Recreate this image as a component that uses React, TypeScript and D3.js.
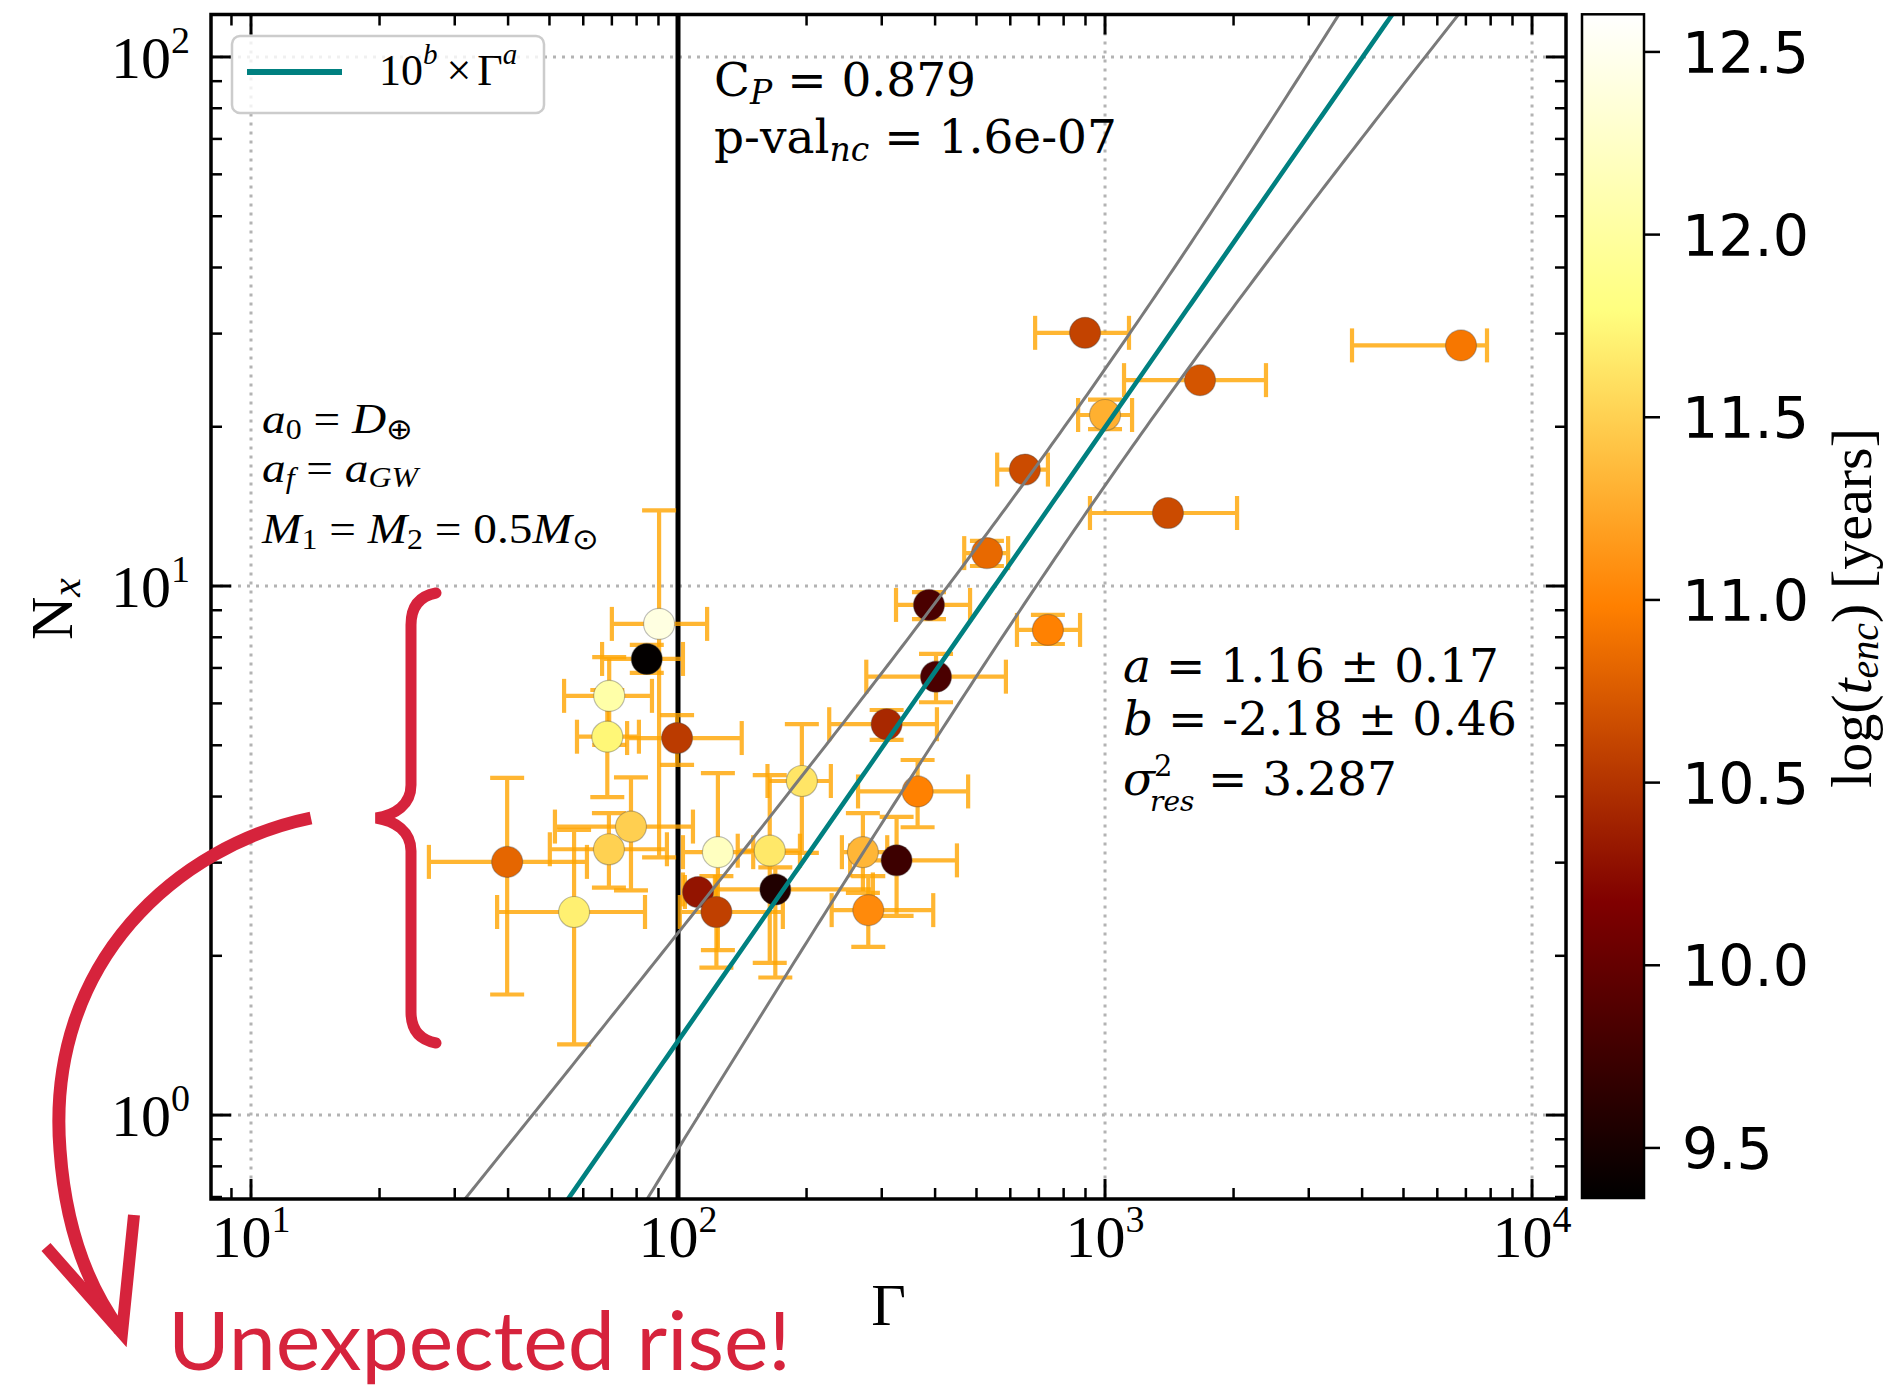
import React from 'react';
import * as d3 from 'd3';

const width = 1890;
const height = 1389;

const plot = { left: 211, right: 1566, top: 14.5, bottom: 1199 };
const cbBox = { left: 1582, right: 1644, top: 14.3, bottom: 1198 };

// Gamma values with horizontal error bounds
const gammaVals = [898, 6818, 1669, 1000, 649, 1404, 529, 387, 735, 402, 308, 195, 364, 325, 271, 279, 169, 164, 124, 111.4, 123, 99.5, 90.3, 84.5, 69.0, 68.3, 77.6, 68.9, 39.8, 57.1];
const gammaLow = [686, 3788, 1108, 865, 559, 922, 468, 324, 622, 276, 226, 162, 264, 253, 242, 229, 102.7, 138, 102.7, 103.8, 101, 76, 70.0, 66.4, 54.1, 58.0, 51.5, 50.1, 26.1, 37.7];
const gammaHigh = [1138, 7844, 2382, 1157, 735, 2038, 593, 483, 874, 586, 404, 228, 478, 450, 309, 396, 286, 193, 150, 122, 176, 141, 117, 102.7, 86.9, 81.0, 108.4, 94.2, 61.2, 83.7];

// N_x values with vertical error bounds (null = no visible bar)
const nxVals = [30.1, 28.5, 24.5, 21.05, 16.6, 13.74, 11.54, 9.21, 8.26, 6.74, 5.48, 4.28, 4.09, 3.03, 3.14, 2.44, 2.67, 3.16, 3.14, 2.64, 2.42, 5.16, 8.48, 7.28, 6.20, 5.19, 3.51, 3.18, 3.01, 2.42];
const nxLow = [null, null, null, 19.8, null, null, 10.91, 8.66, 7.77, 6.03, 5.12, 3.13, 3.50, 2.38, 2.63, 2.08, 1.82, 1.94, 2.05, null, 1.90, 4.59, 3.07, 6.85, 5.01, 3.99, 2.66, 2.69, 1.69, 1.36];
const nxHigh = [null, null, null, 22.5, null, null, 12.17, 9.74, 8.82, 7.44, 5.83, 5.48, 4.69, 3.66, 3.72, 2.83, 2.94, 4.39, 4.43, null, 2.83, 5.70, 13.9, 7.74, 7.34, 6.36, 4.35, 3.72, 4.34, 3.46];

// log(t_enc) colour values
const logTenc = [10.6, 10.93, 10.71, 11.29, 10.65, 10.65, 10.84, 9.83, 10.99, 9.83, 10.43, 11.63, 10.99, 9.75, 11.33, 11.05, 9.565, 11.65, 12.2, 10.3, 10.58, 10.55, 12.41, 9.38, 12.05, 11.74, 11.49, 11.5, 10.82, 11.7];

// fit 10^b * Gamma^a and its band
const fitA = 1.16;
const fitB = -2.18;
const bandS0 = 0.11;
const bandS1 = 0.172;
const bandCenter = 3.0;
const gammaCut = 100;

const xDomain = [8.06, 12010];
const yDomain = [0.694, 120.3];
const xMajor = [10, 100, 1000, 10000];
const yMajor = [1, 10, 100];
const cbDomain = [9.363, 12.603];
const cbTicks = [9.5, 10.0, 10.5, 11.0, 11.5, 12.0, 12.5];

const red = '#d6233c';
const serif = 'Liberation Serif, Times New Roman, serif';
const djSerif = 'DejaVu Serif, serif';

function afmhot(t: number) {
  const c = (v: number) => Math.max(0, Math.min(1, v));
  return d3.rgb(c(2 * t) * 255, c(2 * t - 0.5) * 255, c(2 * t - 1) * 255).formatHex();
}

const isMajor = (v: number) => Math.abs(Math.log10(v) - Math.round(Math.log10(v))) < 1e-9;

export default function App() {
  const x = d3.scaleLog().domain(xDomain).range([plot.left, plot.right]);
  const y = d3.scaleLog().domain(yDomain).range([plot.bottom, plot.top]);
  const cb = d3.scaleLinear().domain(cbDomain).range([cbBox.bottom, cbBox.top]);
  const color = (v: number) => afmhot((v - cbDomain[0]) / (cbDomain[1] - cbDomain[0]));

  const l0 = Math.log10(xDomain[0]);
  const l1 = Math.log10(xDomain[1]);
  const logs = d3.range(0, 301).map((i) => l0 + (i / 300) * (l1 - l0));
  const band = (L: number) => Math.sqrt(bandS0 * bandS0 + bandS1 * bandS1 * (L - bandCenter) ** 2);
  const curve = (f: (L: number) => number) =>
    d3.line<number>().x((L) => x(10 ** L)).y((L) => y(10 ** f(L)))(logs) as string;
  const fitPath = curve((L) => fitA * L + fitB);
  const upperPath = curve((L) => fitA * L + fitB + band(L));
  const lowerPath = curve((L) => fitA * L + fitB - band(L));

  const xTicks = x.ticks().filter((v) => v >= xDomain[0] && v <= xDomain[1]);
  const yTicks = y.ticks().filter((v) => v >= yDomain[0] && v <= yDomain[1]);

  const cap = 17;
  const ebColor = '#ffa500';

  const gradStops = d3.range(0, 65).map((i) => i / 64);

  return (
    <svg width={width} height={height} style={{ position: 'absolute', left: 0, top: 0, background: '#fff' }}>
      <defs>
        <clipPath id="plotClip">
          <rect x={plot.left} y={plot.top} width={plot.right - plot.left} height={plot.bottom - plot.top} />
        </clipPath>
        <linearGradient id="cbGrad" x1="0" y1="1" x2="0" y2="0">
          {gradStops.map((t) => (
            <stop key={t} offset={t} stopColor={afmhot(t)} />
          ))}
        </linearGradient>
      </defs>
      <rect width={width} height={height} fill="#fff" />

      {/* grid */}
      <g stroke="#b3b3b3" strokeWidth={3} strokeDasharray="3,6">
        {xMajor.map((v) => (
          <line key={'gx' + v} x1={x(v)} x2={x(v)} y1={plot.top} y2={plot.bottom} />
        ))}
        {yMajor.map((v) => (
          <line key={'gy' + v} x1={plot.left} x2={plot.right} y1={y(v)} y2={y(v)} />
        ))}
      </g>

      <g clipPath="url(#plotClip)">
        <line x1={x(gammaCut)} x2={x(gammaCut)} y1={plot.top} y2={plot.bottom} stroke="#000" strokeWidth={5} />

        {/* error bars */}
        {gammaVals.map((g, i) => {
          const cx = x(g);
          const cy = y(nxVals[i]);
          const lo = nxLow[i];
          const hi = nxHigh[i];
          return (
            <g key={'eb' + i} stroke={ebColor} strokeWidth={4.2} opacity={0.8}>
              <line x1={x(gammaLow[i])} x2={x(gammaHigh[i])} y1={cy} y2={cy} />
              <line x1={x(gammaLow[i])} x2={x(gammaLow[i])} y1={cy - cap} y2={cy + cap} />
              <line x1={x(gammaHigh[i])} x2={x(gammaHigh[i])} y1={cy - cap} y2={cy + cap} />
              {lo != null && hi != null && (
                <>
                  <line x1={cx} x2={cx} y1={y(lo)} y2={y(hi)} />
                  <line x1={cx - cap} x2={cx + cap} y1={y(lo)} y2={y(lo)} />
                  <line x1={cx - cap} x2={cx + cap} y1={y(hi)} y2={y(hi)} />
                </>
              )}
            </g>
          );
        })}

        {/* markers */}
        {gammaVals.map((g, i) => (
          <circle
            key={'pt' + i}
            cx={x(g)}
            cy={y(nxVals[i])}
            r={15.5}
            fill={color(logTenc[i])}
            stroke="rgba(70,70,70,0.35)"
            strokeWidth={1.2}
          />
        ))}

        <path d={upperPath} fill="none" stroke="#7a7a7a" strokeWidth={3} />
        <path d={lowerPath} fill="none" stroke="#7a7a7a" strokeWidth={3} />
        <path d={fitPath} fill="none" stroke="#008080" strokeWidth={4.6} />
      </g>

      {/* axes frame and ticks */}
      <rect
        x={plot.left}
        y={plot.top}
        width={plot.right - plot.left}
        height={plot.bottom - plot.top}
        fill="none"
        stroke="#000"
        strokeWidth={3.5}
      />
      <g stroke="#000">
        {xTicks.map((v) => {
          const len = isMajor(v) ? 20 : 11;
          const sw = isMajor(v) ? 3 : 2.5;
          return (
            <g key={'xt' + v} strokeWidth={sw}>
              <line x1={x(v)} x2={x(v)} y1={plot.bottom} y2={plot.bottom - len} />
              <line x1={x(v)} x2={x(v)} y1={plot.top} y2={plot.top + len} />
            </g>
          );
        })}
        {yTicks.map((v) => {
          const len = isMajor(v) ? 20 : 11;
          const sw = isMajor(v) ? 3 : 2.5;
          return (
            <g key={'yt' + v} strokeWidth={sw}>
              <line x1={plot.left} x2={plot.left + len} y1={y(v)} y2={y(v)} />
              <line x1={plot.right} x2={plot.right - len} y1={y(v)} y2={y(v)} />
            </g>
          );
        })}
      </g>

      {/* tick labels */}
      <g fontFamily={serif} fontSize={60} fill="#000">
        {xMajor.map((v) => (
          <text key={'xl' + v} x={x(v)} y={1257} textAnchor="middle">
            10
            <tspan dy={-25} fontSize={38}>
              {Math.round(Math.log10(v))}
            </tspan>
          </text>
        ))}
        {yMajor.map((v) => (
          <text key={'yl' + v} x={190} y={y(v) + 21} textAnchor="end">
            10
            <tspan dy={-25} fontSize={38}>
              {Math.round(Math.log10(v))}
            </tspan>
          </text>
        ))}
        <text x={(plot.left + plot.right) / 2} y={1325} textAnchor="middle">
          Γ
        </text>
        <text transform="translate(72,609) rotate(-90)" textAnchor="middle">
          N
          <tspan dy={8} fontSize={42} fontStyle="italic">
            x
          </tspan>
        </text>
      </g>

      {/* legend */}
      <rect x={232} y={36} width={312} height={77} rx={8} fill="#fff" fillOpacity={0.8} stroke="#cccccc" strokeWidth={2.5} />
      <line x1={247} x2={342} y1={72} y2={72} stroke="#008080" strokeWidth={6} />
      <text x={379} y={85} fontFamily={serif} fontSize={44}>
        10
        <tspan dy={-21} fontSize={29} fontStyle="italic">b</tspan>
        <tspan dy={21} dx={9}>×</tspan>
        <tspan dx={6}>Γ</tspan>
        <tspan dy={-21} fontSize={29} fontStyle="italic">a</tspan>
      </text>

      {/* statistics */}
      <g fontFamily={djSerif} fontSize={47} fill="#000">
        <text x={714} y={96}>
          C
          <tspan dy={8} fontSize={33} fontStyle="italic">P</tspan>
          <tspan dy={-8}>{' = 0.879'}</tspan>
        </text>
        <text x={714} y={153}>
          p-val
          <tspan dy={8} fontSize={33} fontStyle="italic">nc</tspan>
          <tspan dy={-8}>{' = 1.6e-07'}</tspan>
        </text>
        <text x={1123} y={682}>
          <tspan fontStyle="italic">a</tspan>
          {' = 1.16 ± 0.17'}
        </text>
        <text x={1123} y={735}>
          <tspan fontStyle="italic">b</tspan>
          {' = -2.18 ± 0.46'}
        </text>
        <text x={1123} y={795}>
          <tspan fontStyle="italic">σ</tspan>
          <tspan x={1154} dy={-19} fontSize={29}>2</tspan>
          <tspan x={1150} dy={35} fontSize={28} fontStyle="italic">res</tspan>
          <tspan x={1208} dy={-16}>= 3.287</tspan>
        </text>
      </g>

      {/* setup annotation */}
      <g fontFamily={serif} fontSize={43} fill="#000">
        <g transform="translate(262,433) scale(1.1,1)">
          <text>
            <tspan fontStyle="italic">a</tspan>
            <tspan dy={6} fontSize={29}>0</tspan>
            <tspan dy={-6}>{' = '}</tspan>
            <tspan fontStyle="italic">D</tspan>
            <tspan dy={6} fontSize={29}>⊕</tspan>
          </text>
        </g>
        <g transform="translate(262,482) scale(1.1,1)">
          <text>
            <tspan fontStyle="italic">a</tspan>
            <tspan dy={6} fontSize={29} fontStyle="italic">f</tspan>
            <tspan dy={-6}>{' = '}</tspan>
            <tspan fontStyle="italic">a</tspan>
            <tspan dy={5} fontSize={29} fontStyle="italic">GW</tspan>
          </text>
        </g>
        <g transform="translate(262,543) scale(1.1,1)">
          <text>
            <tspan fontStyle="italic">M</tspan>
            <tspan dy={6} fontSize={29}>1</tspan>
            <tspan dy={-6}>{' = '}</tspan>
            <tspan fontStyle="italic">M</tspan>
            <tspan dy={6} fontSize={29}>2</tspan>
            <tspan dy={-6}>{' = 0.5'}</tspan>
            <tspan fontStyle="italic">M</tspan>
            <tspan dy={6} fontSize={29}>⊙</tspan>
          </text>
        </g>
      </g>

      {/* colorbar */}
      <rect
        x={cbBox.left}
        y={cbBox.top}
        width={cbBox.right - cbBox.left}
        height={cbBox.bottom - cbBox.top}
        fill="url(#cbGrad)"
        stroke="#000"
        strokeWidth={2.5}
      />
      {cbTicks.map((v) => (
        <g key={'cb' + v}>
          <line x1={cbBox.right} x2={cbBox.right + 16} y1={cb(v)} y2={cb(v)} stroke="#000" strokeWidth={2.5} />
          <text x={1682} y={cb(v) + 21} fontFamily="DejaVu Sans, sans-serif" fontSize={57}>
            {v.toFixed(1)}
          </text>
        </g>
      ))}
      <text transform="translate(1871,608) rotate(-90)" textAnchor="middle" fontFamily={serif} fontSize={58}>
        log(
        <tspan fontStyle="italic">t</tspan>
        <tspan dy={7} fontSize={40} fontStyle="italic">enc</tspan>
        <tspan dy={-7}>{') [years]'}</tspan>
      </text>

      {/* red annotations */}
      <path
        d="M436,593 C420,596 411,606 411,625 L411,785 C411,805 395,815 376,818 C395,821 411,831 411,851 L411,1012 C411,1030 420,1040 436,1043"
        fill="none"
        stroke={red}
        strokeWidth={11}
        strokeLinecap="round"
      />
      <path
        d="M311,818 C180,845 45,960 60,1150 C66,1235 92,1292 120,1330"
        fill="none"
        stroke={red}
        strokeWidth={13}
      />
      <path d="M46,1247 L122,1333 L134,1215" fill="none" stroke={red} strokeWidth={12} strokeLinejoin="miter" />
      <text x={168} y={1370} fontFamily="Lato, sans-serif" fontSize={82} fill={red} textLength={623} lengthAdjust="spacingAndGlyphs">
        Unexpected rise!
      </text>
    </svg>
  );
}
